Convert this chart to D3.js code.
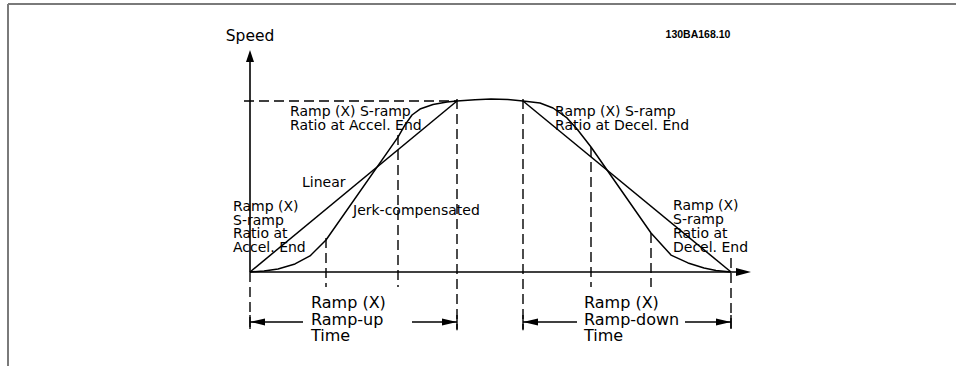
<!DOCTYPE html>
<html>
<head>
<meta charset="utf-8">
<script src="https://cdn.jsdelivr.net/npm/d3@7"></script>
<style>
  html, body { margin: 0; padding: 0; background: #fff; }
  svg { display: block; }
  text { font-family: "DejaVu Sans", Verdana, sans-serif; fill: #000; }
</style>
</head>
<body>
<svg id="chart" width="956" height="366"></svg>
<script>
// ---- data (time in arbitrary units, speed in % of max) ----
const linearUpTime = [0, 41.4];
const linearUpSpeed = [0, 100];
const linearDownTime = [54.6, 96.2];
const linearDownSpeed = [100, 0];

const jerkUpTime  = [0, 2.8, 5.6, 9, 12, 15.2, 29.6, 31, 32.4, 34, 36.6, 39.4, 41.4];
const jerkUpSpeed = [0, 0.6, 1.8, 4.7, 9.4, 18.7, 78.9, 86, 91.8, 95.3, 98, 99.4, 100];

const plateauTime  = [41.4, 45, 48.2, 51.6, 54.6];
const plateauSpeed = [100, 100.8, 101.2, 100.9, 100];

const jerkDownTime  = [54.6, 58, 60.6, 63.4, 65.4, 68.2, 80.2, 84.2, 87.6, 90.8, 93.2, 96.2];
const jerkDownSpeed = [100, 98.8, 95.9, 90.1, 83.6, 73.1, 22.8, 9.9, 5.3, 2.3, 0.9, 0];

// vertical dashed markers: time, top speed, bottom speed
const markerTime   = [0, 15.2, 29.6, 41.4, 54.6, 68.2, 80.2, 96.2];
const markerTop    = [0, 19.9, 80.1, 101.2, 101.2, 73.1, 22.8, 8.2];
const markerBottom = [-34, -8.8, -8.8, -34, -34, -8.8, -8.8, -34];

const axisTimeMax = 100.2;
const axisSpeedMax = 129.8;

const spanStart = [0, 54.6];
const spanEnd   = [41.4, 96.2];
const spanGapStart = [10.6, 65.4];
const spanGapEnd   = [32.4, 87];
const spanSpeed = -29.2;
const spanLabels = [["Ramp (X)", "Ramp-up", "Time"], ["Ramp (X)", "Ramp-down", "Time"]];
const spanLabelTime = [12.2, 66.8];

const docId = "130BA168.10";

// ---- scales ----
const x = d3.scaleLinear().domain([0, 100]).range([250, 750]);
const y = d3.scaleLinear().domain([0, 100]).range([272, 101]);

const svg = d3.select("#chart");

// frame (top and left border)
svg.append("line").attr("x1", 8).attr("y1", 4).attr("x2", 956).attr("y2", 4)
  .attr("stroke", "#7a7a7a").attr("stroke-width", 2);
svg.append("line").attr("x1", 8).attr("y1", 4).attr("x2", 8).attr("y2", 366)
  .attr("stroke", "#7a7a7a").attr("stroke-width", 2);

const g = svg.append("g");
const line = d3.line().x(d => x(d[0])).y(d => y(d[1]));
const zip = (a, b) => a.map((v, i) => [v, b[i]]);

// dashed horizontal at max speed
g.append("line")
  .attr("x1", x(-1.2)).attr("x2", x(41.4))
  .attr("y1", y(100)).attr("y2", y(100))
  .attr("stroke", "#000").attr("stroke-width", 1.4).attr("stroke-dasharray", "10,5");

// dashed verticals
markerTime.forEach((t, i) => {
  g.append("line")
    .attr("x1", x(t)).attr("x2", x(t))
    .attr("y1", y(markerTop[i])).attr("y2", y(markerBottom[i]))
    .attr("stroke", "#000").attr("stroke-width", 1.4).attr("stroke-dasharray", "10,5");
});

// axes
g.append("line").attr("x1", x(0)).attr("y1", y(0)).attr("x2", x(0)).attr("y2", y(axisSpeedMax) + 10)
  .attr("stroke", "#000").attr("stroke-width", 1.6);
g.append("line").attr("x1", x(0)).attr("y1", y(0)).attr("x2", x(axisTimeMax) - 10).attr("y2", y(0))
  .attr("stroke", "#000").attr("stroke-width", 1.6);
// arrowheads
function arrow(px, py, dir, len, half) {
  let p;
  if (dir === "up") p = [[px, py], [px - half, py + len], [px + half, py + len]];
  if (dir === "right") p = [[px, py], [px - len, py - half], [px - len, py + half]];
  if (dir === "left") p = [[px, py], [px + len, py - half], [px + len, py + half]];
  g.append("path").attr("d", "M" + p.map(q => q.join(",")).join("L") + "Z").attr("fill", "#000");
}
arrow(x(0), y(axisSpeedMax), "up", 12, 4);
arrow(x(axisTimeMax), y(0), "right", 15, 4);

// curves
[[linearUpTime, linearUpSpeed], [linearDownTime, linearDownSpeed],
 [jerkUpTime, jerkUpSpeed], [plateauTime, plateauSpeed], [jerkDownTime, jerkDownSpeed]]
.forEach(([t, s]) => {
  g.append("path").attr("d", line(zip(t, s)))
    .attr("fill", "none").attr("stroke", "#000").attr("stroke-width", 1.5)
    .attr("stroke-linejoin", "round");
});

// span arrows
spanStart.forEach((s, i) => {
  const e = spanEnd[i];
  const yy = y(spanSpeed);
  g.append("line").attr("x1", x(s)).attr("x2", x(spanGapStart[i])).attr("y1", yy).attr("y2", yy)
    .attr("stroke", "#000").attr("stroke-width", 1.4);
  g.append("line").attr("x1", x(spanGapEnd[i])).attr("x2", x(e)).attr("y1", yy).attr("y2", yy)
    .attr("stroke", "#000").attr("stroke-width", 1.4);
  arrow(x(s), yy, "left", 15, 3.5);
  arrow(x(e), yy, "right", 15, 3.5);
  [s, e].forEach(t => {
    g.append("line").attr("x1", x(t)).attr("x2", x(t)).attr("y1", yy - 7).attr("y2", yy + 7)
      .attr("stroke", "#000").attr("stroke-width", 1.4);
  });
  spanLabels[i].forEach((txt, k) => {
    g.append("text").attr("x", x(spanLabelTime[i])).attr("y", 308 + k * 16.5)
      .attr("font-size", 16).text(txt);
  });
});

// annotations
function block(lines, px, py, dy, size) {
  lines.forEach((t, k) => {
    g.append("text").attr("x", px).attr("y", py + k * dy).attr("font-size", size).text(t);
  });
}
g.append("text").attr("x", x(0)).attr("y", 41).attr("text-anchor", "middle")
  .attr("font-size", 15.5).text("Speed");
block(["Ramp (X) S-ramp", "Ratio at Accel. End"], 290, 116, 14, 14);
block(["Ramp (X) S-ramp", "Ratio at Decel. End"], 555, 116, 14, 14);
block(["Ramp (X)", "S-ramp", "Ratio at", "Accel. End"], 233, 211, 13.7, 14);
block(["Ramp (X)", "S-ramp", "Ratio at", "Decel. End"], 673, 210, 14, 14);
g.append("text").attr("x", 302).attr("y", 187).attr("font-size", 14).text("Linear");
g.append("text").attr("x", 353).attr("y", 215).attr("font-size", 14).text("Jerk-compensated");

svg.append("text").attr("x", 698).attr("y", 38).attr("text-anchor", "middle")
  .style("font-family", "'Liberation Sans', Arial, sans-serif")
  .attr("font-weight", "bold").attr("font-size", 10.5).text(docId);
</script>
</body>
</html>
